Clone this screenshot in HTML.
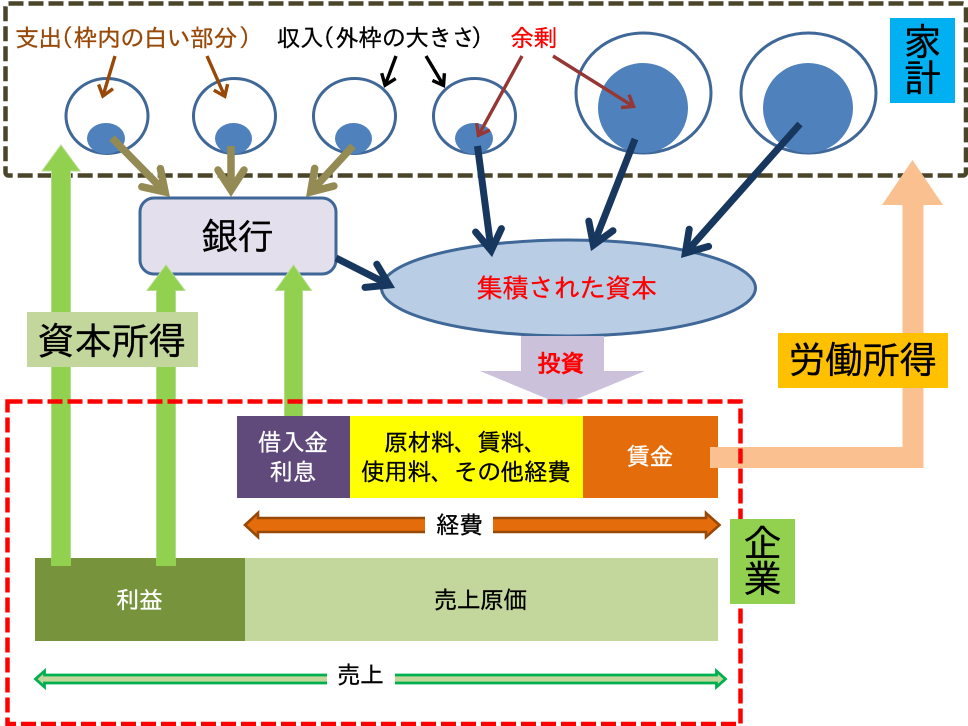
<!DOCTYPE html>
<html lang="ja">
<head>
<meta charset="utf-8">
<style>
html,body{margin:0;padding:0;background:#fff;}
svg{display:block;}
text{font-family:"Liberation Sans","IPAGothic","Noto Sans CJK JP",sans-serif;text-anchor:middle;letter-spacing:-.03em;stroke-width:.25px;}
.l{text-anchor:start;}
</style>
</head>
<body>
<svg xmlns="http://www.w3.org/2000/svg" width="968" height="726" viewBox="0 0 968 726">

<!-- household frame -->
<rect x="5.5" y="3.5" width="960.5" height="172" rx="3" fill="#fff" stroke="#4a452a" stroke-width="4.5" stroke-dasharray="15 5"/>
<rect x="890" y="18" width="65" height="85" fill="#00b0f0"/>
<text x="922" y="55.5" font-size="38.2" fill="#000" stroke="#000">家</text>
<text x="922" y="91.5" font-size="38.2" fill="#000" stroke="#000">計</text>

<!-- circles -->
<g fill="#fff" stroke="#3f6797" stroke-width="3">
<ellipse cx="107" cy="116" rx="41" ry="37.5"/>
<ellipse cx="234.5" cy="116" rx="41" ry="37.5"/>
<ellipse cx="354.5" cy="116" rx="41" ry="37.5"/>
<ellipse cx="474.5" cy="116" rx="41" ry="37.5"/>
<ellipse cx="643.5" cy="93" rx="67.5" ry="60"/>
<ellipse cx="808.5" cy="93" rx="67.5" ry="60"/>
</g>
<g fill="#4f81bd">
<ellipse cx="106" cy="138.5" rx="19" ry="15.5"/>
<ellipse cx="233.5" cy="138.5" rx="18.5" ry="15.5"/>
<ellipse cx="353.5" cy="138.5" rx="18.5" ry="15.5"/>
<ellipse cx="474" cy="138.5" rx="19" ry="15.5"/>
<circle cx="643" cy="108" r="45"/>
<circle cx="808" cy="108" r="45"/>
</g>

<!-- top labels -->
<text class="l" x="15" y="46.5" font-size="24" fill="#984807" stroke="#984807">支出<tspan dx="-12.5">（</tspan><tspan dx="1.3" style="letter-spacing:-.7px">枠内の白い部分</tspan><tspan dx="2">）</tspan></text>
<text class="l" x="276.5" y="46.5" font-size="24" fill="#000" stroke="#000">収入<tspan dx="-12.5">（</tspan><tspan dx="1.3">外枠の大きさ</tspan><tspan dx="-4">）</tspan></text>
<text class="l" x="510" y="46.5" font-size="24" fill="#ff0000" stroke="#ff0000">余剰</text>

<!-- thin arrows -->
<g fill="none" stroke-width="3.4" stroke-miterlimit="10">
<path d="M115,56L102.9,96.1M98.6,84.4L102.9,96.1L113,88.8" stroke="#984807"/>
<path d="M207,56L224.8,96.3M213.8,90.1L224.8,96.3L227.6,84.1" stroke="#984807"/>
<path d="M396,56L385.1,85.2M381.7,73.2L385.1,85.2L395.7,78.6" stroke="#000"/>
<path d="M426,56L443.5,85.4M432.4,80.4L443.5,85.4L444.4,73.2" stroke="#000"/>
<path d="M522,56L478.4,135.4M476.7,123.2L478.4,135.4L489.9,130" stroke="#953735"/>
<path d="M553,56L633.5,106.4M621,107.5L633.5,106.4L629,94.7" stroke="#953735"/>
</g>

<!-- ellipse -->
<ellipse cx="568.5" cy="288" rx="187" ry="48" fill="#b9cde5" stroke="#3f6797" stroke-width="3"/>
<text x="566.5" y="297.5" font-size="26.5" fill="#ff0000" stroke="#ff0000">集積された資本</text>

<!-- purple invest arrow -->
<polygon points="521,336 604,336 604,371 645,371 562,405 480,371 521,371" fill="#ccc1da"/>
<text x="560.5" y="372" font-size="24" font-weight="bold" fill="#ff0000">投資</text>

<!-- bank -->
<rect x="140" y="198" width="196" height="76" rx="14" fill="#e4dfec" stroke="#3f6797" stroke-width="3"/>
<text x="237" y="249.5" font-size="37" fill="#000" stroke="#000">銀行</text>

<!-- olive arrows -->
<g fill="none" stroke="#948a54" stroke-width="7.5" stroke-miterlimit="10" stroke-linecap="round">
<path d="M112,138L165.1,192" stroke-linecap="butt"/>
<path d="M141.8,186.8L165.1,192L160.4,168.6"/>
<path d="M231,146L231,190" stroke-linecap="butt"/>
<path d="M218,170L231,190L244,170"/>
<path d="M353,146L310.7,191.9" stroke-linecap="butt"/>
<path d="M314.7,168.4L310.7,191.9L333.9,186"/>
</g>
<!-- navy arrows -->
<g fill="none" stroke="#17375e" stroke-width="7" stroke-miterlimit="10" stroke-linecap="round">
<path d="M477.5,146L491.2,250.6" stroke-linecap="butt"/>
<path d="M475.6,232L491.2,250.6L501.4,228.6"/>
<path d="M635,139L593.4,245" stroke-linecap="butt"/>
<path d="M588.8,221.1L593.4,245L613,230.7"/>
<path d="M800,124L685.3,253.1" stroke-linecap="butt"/>
<path d="M689.2,229.2L685.3,253.1L708.6,246.4"/>
<path d="M336,258L389.2,285" stroke-linecap="butt"/>
<path d="M365,287.4L389.2,285L376.8,264.2"/>
</g>

<!-- green income arrows -->
<g fill="#92d050" stroke="#b5dc8c" stroke-width="1">
<polygon points="61,145 80,171 70.5,171 70.5,566 51.5,566 51.5,171 42,171"/>
<polygon points="166,265 185,290.5 175.5,290.5 175.5,566 156.5,566 156.5,290.5 147,290.5"/>
<polygon points="293.5,265 311.5,290.5 302.5,290.5 302.5,420 284.5,420 284.5,290.5 275.5,290.5"/>
</g>
<rect x="27" y="312" width="171" height="55" fill="#c3d69b"/>
<text x="111" y="354.5" font-size="38.2" fill="#000" stroke="#000">資本所得</text>

<!-- company blocks -->
<rect x="35" y="558" width="210" height="83" fill="#77933c"/>
<polygon points="51,558 71,558 71,566 51,566" fill="#92d050"/>
<polygon points="156,558 176,558 176,566 156,566" fill="#92d050"/>
<rect x="245" y="558" width="473" height="83" fill="#c3d69b"/>
<text x="139" y="608.5" font-size="24" fill="#fff" stroke="#fff">利益</text>
<text x="480" y="608.5" font-size="24" fill="#000" stroke="#000">売上原価</text>

<rect x="237" y="416" width="113" height="82" fill="#604a7b"/>
<rect x="350" y="416" width="233" height="82" fill="#ffff00"/>
<rect x="583" y="416" width="135" height="82" fill="#e46c0a"/>
<text x="292.5" y="451" font-size="24" fill="#fff" stroke="#fff">借入金</text>
<text x="292.5" y="480.5" font-size="24" fill="#fff" stroke="#fff">利息</text>
<text x="465.5" y="451" font-size="24" fill="#000" stroke="#000">原材料、賃料、</text>
<text x="465.5" y="480.5" font-size="24" fill="#000" stroke="#000">使用料、その他経費</text>
<text x="649.5" y="465" font-size="24" fill="#fff" stroke="#fff">賃金</text>

<!-- labor arrow -->
<polygon points="912.5,160 943,205 923.5,205 923.5,468 710,468 710,447 902.5,447 902.5,205 882,205" fill="#fac090"/>

<!-- red frame -->
<rect x="7.5" y="401.5" width="733" height="322.5" fill="none" stroke="#ff0000" stroke-width="4.5" stroke-dasharray="15 5"/>

<rect x="778" y="333" width="170" height="55" fill="#ffc000"/>
<text x="862" y="373.5" font-size="38.2" fill="#000" stroke="#000">労働所得</text>

<rect x="730" y="519" width="65" height="85" fill="#92d050"/>
<text x="762" y="556.5" font-size="38.2" fill="#000" stroke="#000">企</text>
<text x="762" y="592.5" font-size="38.2" fill="#000" stroke="#000">業</text>

<!-- expense arrow -->
<polygon points="245,525 258,513 258,518 706,518 706,513 719.5,525 706,537 706,532 258,532 258,537" fill="#e46c0a" stroke="#984807" stroke-width="2.6"/>
<rect x="425" y="510" width="68" height="30" fill="#fff"/>
<text x="459" y="533.5" font-size="24" fill="#000" stroke="#000">経費</text>

<!-- sales arrow -->
<polygon points="35.5,679 44.5,671 44.5,675 716.5,675 716.5,671 725.5,679 716.5,687 716.5,683 44.5,683 44.5,687" fill="#c3d69b" stroke="#00b050" stroke-width="2.8"/>
<rect x="327" y="666" width="68" height="26" fill="#fff"/>
<text x="360" y="683.5" font-size="24" fill="#000" stroke="#000">売上</text>
</svg>
</body>
</html>
